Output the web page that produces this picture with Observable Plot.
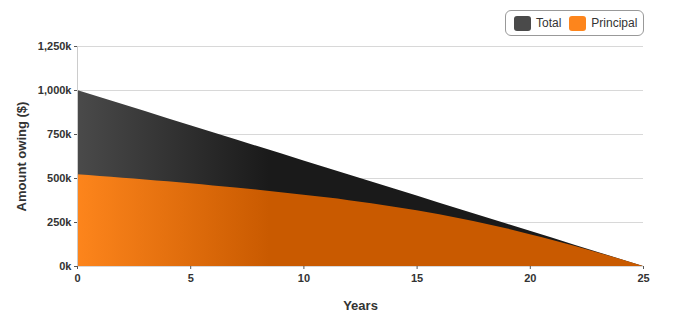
<!DOCTYPE html>
<html><head><meta charset="utf-8">
<script src="https://cdn.jsdelivr.net/npm/d3@7"></script>
<script src="https://cdn.jsdelivr.net/npm/@observablehq/plot@0.6"></script>
<style>
body{margin:0;background:#fff;font-family:"Liberation Sans",Arial,sans-serif}
#wrap{position:relative;width:680px;height:320px}
#legend{position:absolute;left:505px;top:10px;width:139px;height:26px;box-sizing:border-box;border:1px solid #999;border-radius:6px;display:flex;align-items:center;padding-left:8px;font-size:12px;color:#333;background:#fff}
.sw{width:17px;height:15px;border-radius:3px;margin-right:5px}
.it{display:flex;align-items:center;margin-right:8px}
</style></head>
<body><div id="wrap"><div id="legend"></div></div>
<script>
const years = [0,1,2,3,4,5,6,7,8,9,10,11,12,13,14,15,16,17,18,19,20,21,22,23,24,25];
const totalOwing = [1000,960,920,880,840,800,760,720,680,640,600,560,520,480,440,400,360,320,280,240,200,160,120,80,40,0];
const principalOwing = [521,512,502,492,481,470,458,446,433,419,405,390,374,356,337,317,294,269,242,213,181,148,113,77,40,0];
const seriesNames = ["Total","Principal"];
const seriesColors = ["#4a4a4a","#fd851c"];
const seriesDark = ["#1a1a1a","#c95a00"];
const yTicks = [0,250,500,750,1000,1250];
const xTicks = [0,5,10,15,20,25];

const rows = years.map((x,i)=>({x, total: totalOwing[i], principal: principalOwing[i]}));

const chart = Plot.plot({
  width: 680, height: 320,
  marginLeft: 77, marginRight: 37, marginTop: 46, marginBottom: 54,
  style: {fontFamily: '"Liberation Sans", Arial, sans-serif', background: "#fff"},
  x: {domain: [0,25]},
  y: {domain: [0,1250]},
  marks: [
    Plot.gridY(yTicks, {stroke: "#d8d8d8", strokeOpacity: 1}),
    Plot.areaY(rows, {x: "x", y: "total", fill: "url(#gTotal)"}),
    Plot.areaY(rows, {x: "x", y: "principal", fill: "url(#gPrin)", curve: "monotone-x"}),
    Plot.ruleX([0], {stroke: "#ccc"}),
    Plot.axisY({ticks: yTicks, tickSize: 3, tickPadding: 3, stroke: "#555", fill: "#333", fontSize: 11, fontWeight: "bold",
      tickFormat: d => d3.format(",")(d) + "k",
      label: "Amount owing ($)", labelAnchor: "center", labelArrow: "none", labelOffset: 61}),
    Plot.axisX({ticks: xTicks, tickSize: 3, tickPadding: 5, stroke: "#555", fill: "#333", fontSize: 11, fontWeight: "bold",
      label: "Years", labelAnchor: "center", labelArrow: "none", labelOffset: 43})
  ]
});

const ns = "http://www.w3.org/2000/svg";
const defs = document.createElementNS(ns, "defs");
[["gTotal",0],["gPrin",1]].forEach(([id,i])=>{
  const g = document.createElementNS(ns,"linearGradient");
  g.setAttribute("id", id); g.setAttribute("x1","0"); g.setAttribute("x2","1"); g.setAttribute("y1","0"); g.setAttribute("y2","0");
  [["0",seriesColors[i]],["0.34",seriesDark[i]],["1",seriesDark[i]]].forEach(([o,c])=>{
    const s = document.createElementNS(ns,"stop"); s.setAttribute("offset",o); s.setAttribute("stop-color",c); g.appendChild(s);
  });
  defs.appendChild(g);
});
chart.insertBefore(defs, chart.firstChild);
const labs = chart.querySelectorAll('g[aria-label="y-axis label"], g[aria-label="x-axis label"]');
labs.forEach(g=>{g.setAttribute("font-size","13"); g.setAttribute("font-weight","bold"); g.setAttribute("fill","#333");});
document.getElementById("wrap").prepend(chart);

const leg = document.getElementById("legend");
seriesNames.forEach((n,i)=>{
  const it = document.createElement("div"); it.className="it";
  const sw = document.createElement("div"); sw.className="sw"; sw.style.background = seriesColors[i];
  const t = document.createElement("span"); t.textContent = n;
  it.appendChild(sw); it.appendChild(t); leg.appendChild(it);
});
</script></body></html>
